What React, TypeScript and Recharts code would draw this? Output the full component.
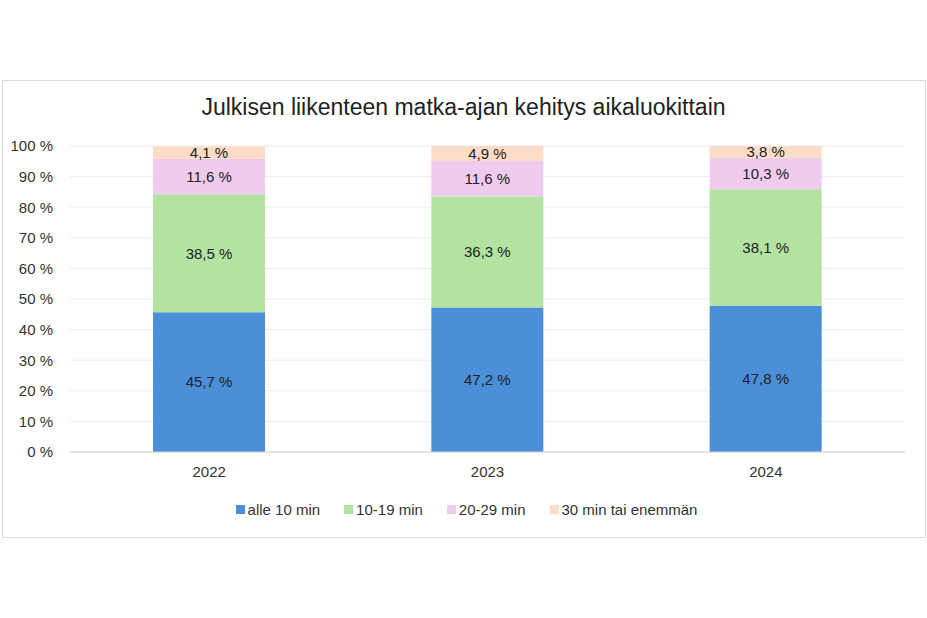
import React from "react";
import { BarChart, Bar, XAxis, YAxis, CartesianGrid, LabelList } from "recharts";

const years = ["2022", "2023", "2024"];
const alle10 = [45.7, 47.2, 47.8];
const min10to19 = [38.5, 36.3, 38.1];
const min20to29 = [11.6, 11.6, 10.3];
const min30plus = [4.1, 4.9, 3.8];
const yTicks = [0, 10, 20, 30, 40, 50, 60, 70, 80, 90, 100];

const series = [
  { key: "alle10", name: "alle 10 min", values: alle10, color: "#4a8fd8" },
  { key: "min10to19", name: "10-19 min", values: min10to19, color: "#b2e3a1" },
  { key: "min20to29", name: "20-29 min", values: min20to29, color: "#efcbef" },
  { key: "min30plus", name: "30 min tai enemmän", values: min30plus, color: "#fcdcc6" },
];

const data = years.map((year, i) => {
  const row: Record<string, string | number> = { year };
  series.forEach((s) => (row[s.key] = s.values[i]));
  return row;
});

const font = '"Liberation Sans", Arial, sans-serif';
const fmt = (v: number) => `${v.toFixed(1).replace(".", ",")} %`;

export default function App() {
  return (
    <div style={{ position: "absolute", left: 0, top: 0, width: 927, height: 618, background: "#fff", fontFamily: font }}>
      <div
        style={{
          position: "absolute",
          left: 2,
          top: 80,
          width: 922,
          height: 456,
          border: "1px solid #d9d9d9",
        }}
      />
      <div
        style={{
          position: "absolute",
          left: 0,
          top: 94,
          width: 927,
          textAlign: "center",
          fontSize: 23,
          color: "#222",
        }}
      >
        Julkisen liikenteen matka-ajan kehitys aikaluokittain
      </div>

      <BarChart
        width={927}
        height={618}
        data={data}
        margin={{ top: 146, right: 22, bottom: 136, left: 10 }}
        style={{ position: "absolute", left: 0, top: 0 }}
      >
        <CartesianGrid vertical={false} stroke="#ebebeb" />
        <XAxis
          dataKey="year"
          tickLine={false}
          axisLine={{ stroke: "#d4d4d4" }}
          tickMargin={8}
          height={30}
          tick={{ fill: "#333", fontSize: 15, fontFamily: font }}
        />
        <YAxis
          domain={[0, 100]}
          ticks={yTicks}
          tickFormatter={(v: number) => `${v} %`}
          axisLine={false}
          tickLine={false}
          tickMargin={11}
          width={60}
          tick={{ fill: "#333", fontSize: 15, fontFamily: font }}
        />
        {series.map((s) => (
          <Bar key={s.key} dataKey={s.key} name={s.name} stackId="a" fill={s.color} barSize={112} isAnimationActive={false}>
            <LabelList
              dataKey={s.key}
              position="center"
              formatter={(v: number) => fmt(v)}
              style={{ fill: "#222", fontSize: 15, fontFamily: font }}
            />
          </Bar>
        ))}
      </BarChart>

      <div
        style={{
          position: "absolute",
          left: 0,
          top: 501,
          width: 933,
          display: "flex",
          justifyContent: "center",
          gap: 24,
          fontSize: 15,
          color: "#333",
        }}
      >
        {series.map((s) => (
          <div key={s.key} style={{ display: "flex", alignItems: "center" }}>
            <span style={{ display: "inline-block", width: 9, height: 9, background: s.color, marginRight: 3 }} />
            <span>{s.name}</span>
          </div>
        ))}
      </div>
    </div>
  );
}
